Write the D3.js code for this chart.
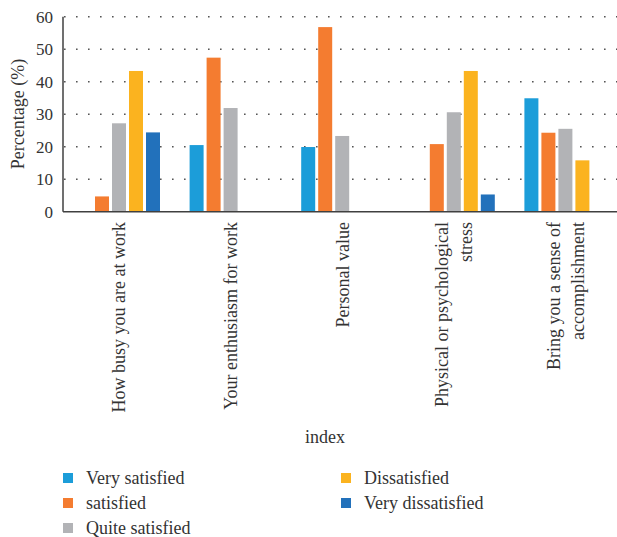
<!DOCTYPE html>
<html>
<head>
<meta charset="UTF-8" />
<script src="https://d3js.org/d3.v7.min.js"></script>
<style>
  body { margin: 0; background: #fff; }
</style>
</head>
<body>
<script>
// categories (multi-line labels split by "\n")
const categories = [
  "How busy you are at work",
  "Your enthusiasm for work",
  "Personal value",
  "Physical or psychological\nstress",
  "Bring you a sense of\naccomplishment"
];
const series = ["Very satisfied", "satisfied", "Quite satisfied", "Dissatisfied", "Very dissatisfied"];
const colors = ["#1c9dd9", "#f47c30", "#b2b3b6", "#fbb31f", "#2271bb"];

// values per series, one per category (null = no bar)
const verySatisfied    = [null, 20.5, 19.9, null, 34.9];
const satisfied        = [4.7, 47.4, 56.8, 20.8, 24.3];
const quiteSatisfied   = [27.2, 31.9, 23.3, 30.6, 25.5];
const dissatisfied     = [43.3, null, null, 43.3, 15.8];
const veryDissatisfied = [24.4, null, null, 5.3, null];
const yTicks = [0, 10, 20, 30, 40, 50, 60];

const values = [verySatisfied, satisfied, quiteSatisfied, dissatisfied, veryDissatisfied];

const width = 617, height = 537;
const svg = d3.select("body").append("svg")
  .attr("width", width)
  .attr("height", height)
  .attr("font-family", "'Liberation Serif', 'DejaVu Serif', 'Times New Roman', serif")
  .style("font-family", "'Liberation Serif', 'DejaVu Serif', 'Times New Roman', serif");

const y = d3.scaleLinear().domain([0, 60]).range([211.7, 16.7]);

const x0 = d3.scaleBand().domain(categories).range([65, 623]);
const x1 = d3.scaleBand().domain(series).range([13, 95]).paddingInner(3 / 17);

// dotted gridlines
svg.append("g")
  .selectAll("line")
  .data(yTicks.filter(d => d > 0))
  .join("line")
  .attr("x1", 63)
  .attr("x2", width)
  .attr("y1", d => y(d))
  .attr("y2", d => y(d))
  .attr("stroke", "#555")
  .attr("stroke-width", 1.6)
  .attr("stroke-dasharray", "1.6,10.4")
  .attr("stroke-dashoffset", -1);

// bars
const rows = [];
categories.forEach((c, i) => {
  series.forEach((s, j) => {
    if (values[j][i] != null) rows.push({ cat: c, ser: s, v: values[j][i], col: colors[j] });
  });
});

svg.append("g")
  .selectAll("rect")
  .data(rows)
  .join("rect")
  .attr("x", d => x0(d.cat) + x1(d.ser))
  .attr("width", x1.bandwidth())
  .attr("y", d => y(d.v))
  .attr("height", d => y(0) - y(d.v))
  .attr("fill", d => d.col);

// axes lines
svg.append("line")
  .attr("x1", 63).attr("x2", 63)
  .attr("y1", y(60)).attr("y2", y(0))
  .attr("stroke", "#404040").attr("stroke-width", 1.5);
svg.append("line")
  .attr("x1", 63).attr("x2", width)
  .attr("y1", y(0)).attr("y2", y(0))
  .attr("stroke", "#404040").attr("stroke-width", 1.5);

const ink = "#333";

// y tick labels
svg.append("g")
  .selectAll("text")
  .data(yTicks)
  .join("text")
  .attr("x", 53)
  .attr("y", d => y(d))
  .attr("dy", "0.35em")
  .attr("text-anchor", "end")
  .attr("font-size", 17)
  .attr("fill", ink)
  .text(d => d);

// y axis title
svg.append("text")
  .attr("transform", "translate(24,114) rotate(-90)")
  .attr("text-anchor", "middle")
  .attr("font-size", 18)
  .attr("fill", ink)
  .text("Percentage (%)");

// rotated category labels
const lab = svg.append("g")
  .selectAll("g")
  .data(categories)
  .join("g")
  .attr("transform", d => `translate(${x0(d) + 54},222) rotate(-90)`);

lab.each(function (d) {
  const lines = d.split("\n");
  const lh = 24;
  const off = -(lines.length - 1) * lh / 2;
  d3.select(this).selectAll("text")
    .data(lines)
    .join("text")
    .attr("x", 0)
    .attr("y", (l, i) => off + i * lh)
    .attr("dy", "0.35em")
    .attr("text-anchor", "end")
    .attr("font-size", 18)
    .attr("fill", ink)
    .text(l => l);
});

// x axis title
svg.append("text")
  .attr("x", 325)
  .attr("y", 443)
  .attr("text-anchor", "middle")
  .attr("font-size", 18)
  .attr("fill", ink)
  .text("index");

// legend
const legendPos = [
  { x: 63, y: 478 }, { x: 63, y: 503 }, { x: 63, y: 528 },
  { x: 341, y: 478 }, { x: 341, y: 503 }
];
const leg = svg.append("g")
  .selectAll("g")
  .data(series)
  .join("g")
  .attr("transform", (d, i) => `translate(${legendPos[i].x},${legendPos[i].y})`);
leg.append("rect")
  .attr("x", 0).attr("y", -5)
  .attr("width", 10).attr("height", 10)
  .attr("fill", (d, i) => colors[i]);
leg.append("text")
  .attr("x", 23)
  .attr("y", 0)
  .attr("dy", "0.35em")
  .attr("font-size", 18)
  .attr("fill", ink)
  .text(d => d);
</script>
</body>
</html>
